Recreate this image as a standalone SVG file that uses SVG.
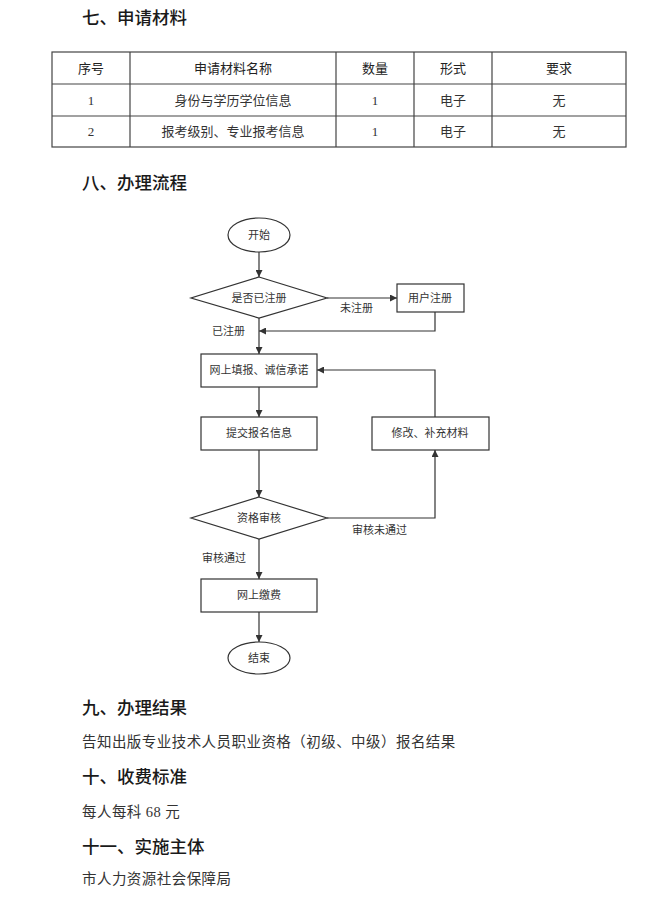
<svg xmlns="http://www.w3.org/2000/svg" width="658" height="906" viewBox="0 0 658 906">
<style>
.h{font-family:"Noto Sans CJK SC","Liberation Sans",sans-serif;font-size:17.5px;font-weight:500;fill:#1a1a1a}
.b{font-family:"Liberation Serif","Noto Sans CJK SC",serif;font-size:14.5px;letter-spacing:0.45px;fill:#333}
.th{font-family:"Noto Sans CJK SC","Liberation Sans",sans-serif;font-size:13px;fill:#222;text-anchor:middle}
.td{font-family:"Liberation Serif","Noto Sans CJK SC",serif;font-size:13px;fill:#333;text-anchor:middle}
.tb{fill:none;stroke:#444;stroke-width:1.2}
.n{fill:#fff;stroke:#333;stroke-width:1.2}
.nt{font-family:"Noto Sans CJK SC","Liberation Sans",sans-serif;font-size:11px;fill:#333;text-anchor:middle}
.lt{font-family:"Noto Sans CJK SC","Liberation Sans",sans-serif;font-size:11px;fill:#333}
.c{fill:none;stroke:#333;stroke-width:1.2}
</style>
<defs>
<marker id="a" viewBox="0 0 10 10" refX="10" refY="5" markerWidth="7" markerHeight="7" markerUnits="userSpaceOnUse" orient="auto">
<path d="M0,0 L10,5 L0,10 z" fill="#333"/>
</marker>
</defs>
<rect width="658" height="906" fill="#fff"/>

<text class="h" x="82" y="24">七、申请材料</text>

<g id="table">
<rect class="tb" x="52" y="52" width="574" height="95"/>
<line class="tb" x1="52" y1="84" x2="626" y2="84"/>
<line class="tb" x1="52" y1="116" x2="626" y2="116"/>
<line class="tb" x1="130" y1="52" x2="130" y2="147"/>
<line class="tb" x1="336" y1="52" x2="336" y2="147"/>
<line class="tb" x1="414" y1="52" x2="414" y2="147"/>
<line class="tb" x1="492" y1="52" x2="492" y2="147"/>
<text class="th" x="91" y="73">序号</text>
<text class="th" x="233" y="73">申请材料名称</text>
<text class="th" x="375" y="73">数量</text>
<text class="th" x="453" y="73">形式</text>
<text class="th" x="559" y="73">要求</text>
<text class="td" x="91" y="105">1</text>
<text class="td" x="233" y="105">身份与学历学位信息</text>
<text class="td" x="375" y="105">1</text>
<text class="td" x="453" y="105">电子</text>
<text class="td" x="559" y="105">无</text>
<text class="td" x="91" y="136">2</text>
<text class="td" x="233" y="136">报考级别、专业报考信息</text>
<text class="td" x="375" y="136">1</text>
<text class="td" x="453" y="136">电子</text>
<text class="td" x="559" y="136">无</text>
</g>

<text class="h" x="82" y="189">八、办理流程</text>

<g id="connectors">
<line class="c" x1="259" y1="252" x2="259" y2="277" marker-end="url(#a)"/>
<line class="c" x1="327" y1="298" x2="397" y2="298" marker-end="url(#a)"/>
<polyline class="c" points="435,312 435,331 259,331" marker-end="url(#a)"/>
<line class="c" x1="259" y1="318" x2="259" y2="354" marker-end="url(#a)"/>
<line class="c" x1="259" y1="387" x2="259" y2="417" marker-end="url(#a)"/>
<polyline class="c" points="435,417 435,370 317,370" marker-end="url(#a)"/>
<line class="c" x1="259" y1="450" x2="259" y2="497" marker-end="url(#a)"/>
<polyline class="c" points="327,518 435,518 435,450" marker-end="url(#a)"/>
<line class="c" x1="259" y1="539" x2="259" y2="579" marker-end="url(#a)"/>
<line class="c" x1="259" y1="612" x2="259" y2="642" marker-end="url(#a)"/>
<text class="lt" x="340" y="312">未注册</text>
<text class="lt" x="212" y="335">已注册</text>
<text class="lt" x="352" y="534">审核未通过</text>
<text class="lt" x="202" y="562">审核通过</text>
</g>

<g id="start">
<ellipse class="n" cx="259" cy="235" rx="31" ry="17"/>
<text class="nt" x="259" y="239">开始</text>
</g>
<g id="registered">
<polygon class="n" points="259,277 327,298 259,318 191,298"/>
<text class="nt" x="259" y="302">是否已注册</text>
</g>
<g id="register">
<rect class="n" x="397" y="284" width="67" height="28"/>
<text class="nt" x="430" y="302">用户注册</text>
</g>
<g id="fill">
<rect class="n" x="201" y="354" width="116" height="33"/>
<text class="nt" x="259" y="374">网上填报、诚信承诺</text>
</g>
<g id="submit">
<rect class="n" x="201" y="417" width="116" height="33"/>
<text class="nt" x="259" y="437">提交报名信息</text>
</g>
<g id="modify">
<rect class="n" x="372" y="417" width="117" height="33"/>
<text class="nt" x="430" y="437">修改、补充材料</text>
</g>
<g id="review">
<polygon class="n" points="259,497 327,518 259,539 191,518"/>
<text class="nt" x="259" y="522">资格审核</text>
</g>
<g id="pay">
<rect class="n" x="201" y="579" width="116" height="33"/>
<text class="nt" x="259" y="599">网上缴费</text>
</g>
<g id="end">
<ellipse class="n" cx="259" cy="658" rx="31" ry="16"/>
<text class="nt" x="259" y="662">结束</text>
</g>

<text class="h" x="82" y="714">九、办理结果</text>
<text class="b" x="82" y="747">告知出版专业技术人员职业资格（初级、中级）报名结果</text>
<text class="h" x="82" y="783">十、收费标准</text>
<text class="b" x="82" y="817">每人每科 68 元</text>
<text class="h" x="82" y="853">十一、实施主体</text>
<text class="b" x="82" y="884">市人力资源社会保障局</text>
</svg>
